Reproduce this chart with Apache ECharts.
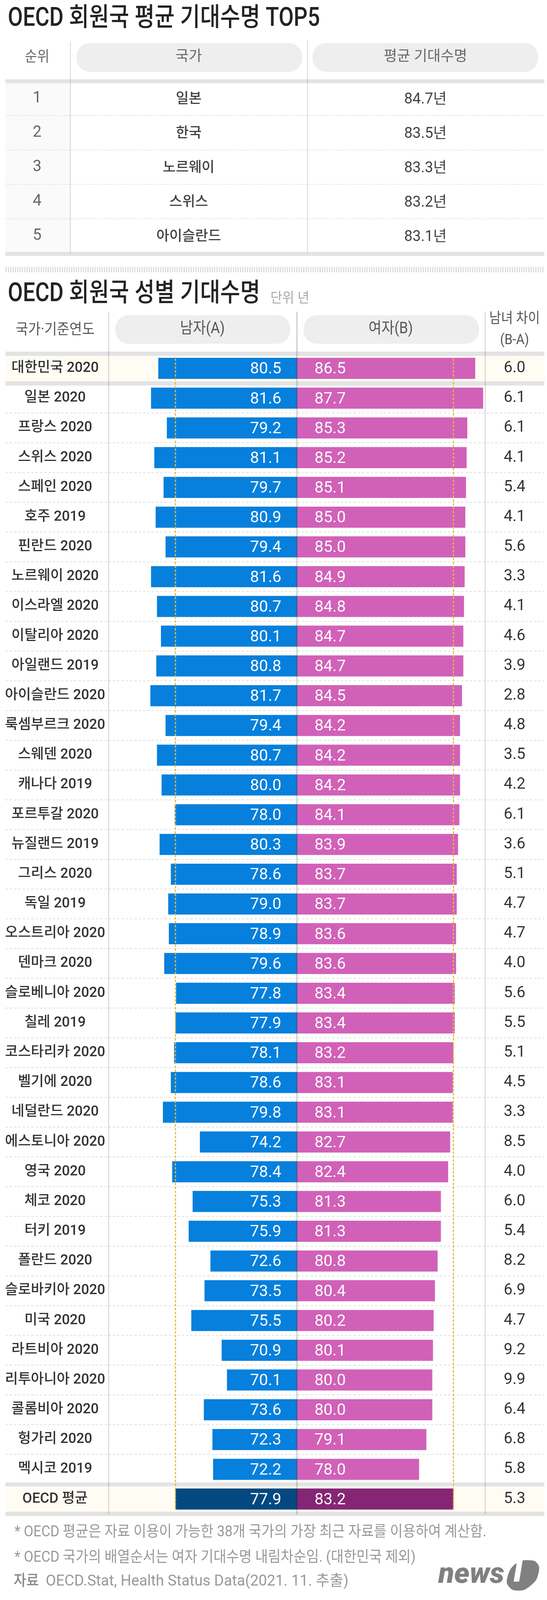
<!DOCTYPE html>
<html>
<head>
<meta charset="utf-8">
<title>OECD 회원국 기대수명</title>
<style>
  html, body { margin: 0; padding: 0; background: #fff; }
  #chart { width: 1400px; height: 4098px; }
</style>
<script src="https://cdn.jsdelivr.net/npm/echarts@6/dist/echarts.min.js"></script>
</head>
<body>
<div id="chart"></div>
<script>
const topTitle = 'OECD 회원국 평균 기대수명 TOP5'
const topHeaders = ['국가', '평균 기대수명']
const topRanks = ['1', '2', '3', '4', '5']
const topCountries = ['일본', '한국', '노르웨이', '스위스', '아이슬란드']
const topLife = [84.7, 83.5, 83.3, 83.2, 83.1]

const categories = [
  '대한민국 2020', '일본 2020', '프랑스 2020', '스위스 2020', '스페인 2020', '호주 2019',
  '핀란드 2020', '노르웨이 2020', '이스라엘 2020', '이탈리아 2020', '아일랜드 2019',
  '아이슬란드 2020', '룩셈부르크 2020', '스웨덴 2020', '캐나다 2019', '포르투갈 2020',
  '뉴질랜드 2019', '그리스 2020', '독일 2019', '오스트리아 2020', '덴마크 2020',
  '슬로베니아 2020', '칠레 2019', '코스타리카 2020', '벨기에 2020', '네덜란드 2020',
  '에스토니아 2020', '영국 2020', '체코 2020', '터키 2019', '폴란드 2020',
  '슬로바키아 2020', '미국 2020', '라트비아 2020', '리투아니아 2020', '콜롬비아 2020',
  '헝가리 2020', '멕시코 2019', 'OECD 평균'
]
const male = [
  80.5, 81.6, 79.2, 81.1, 79.7, 80.9, 79.4, 81.6, 80.7, 80.1, 80.8, 81.7, 79.4,
  80.7, 80.0, 78.0, 80.3, 78.6, 79.0, 78.9, 79.6, 77.8, 77.9, 78.1, 78.6, 79.8,
  74.2, 78.4, 75.3, 75.9, 72.6, 73.5, 75.5, 70.9, 70.1, 73.6, 72.3, 72.2, 77.9
]
const female = [
  86.5, 87.7, 85.3, 85.2, 85.1, 85.0, 85.0, 84.9, 84.8, 84.7, 84.7, 84.5, 84.2,
  84.2, 84.2, 84.1, 83.9, 83.7, 83.7, 83.6, 83.6, 83.4, 83.4, 83.2, 83.1, 83.1,
  82.7, 82.4, 81.3, 81.3, 80.8, 80.4, 80.2, 80.1, 80.0, 80.0, 79.1, 78.0, 83.2
]
const gaps = [
  6.0, 6.1, 6.1, 4.1, 5.4, 4.1, 5.6, 3.3, 4.1, 4.6, 3.9, 2.8, 4.8,
  3.5, 4.2, 6.1, 3.6, 5.1, 4.7, 4.7, 4.0, 5.6, 5.5, 5.1, 4.5, 3.3,
  8.5, 4.0, 6.0, 5.4, 8.2, 6.9, 4.7, 9.2, 9.9, 6.4, 6.8, 5.8, 5.3
]
const oecdMale = 77.9
const oecdFemale = 83.2

const chartTitle = 'OECD 회원국 성별 기대수명'
const notes = [
  '* OECD 평균은 자료 이용이 가능한 38개 국가의 가장 최근 자료를 이용하여 계산함.',
  '* OECD 국가의 배열순서는 여자 기대수명 내림차순임. (대한민국 제외)'
]
const sourceLabel = '자료'
const sourceText = 'OECD.Stat, Health Status Data(2021. 11. 추출)'

const FONT = "Roboto, 'Noto Sans CJK KR', sans-serif"
const CENTER = 760
const HALF = 507
const AXIS_MIN = 59.5
const AXIS_MAX = 89.5
const ROW_TOP = 905
const ROW_H = 76.17
const TOP_ROW_H = 88
const LAST = categories.length - 1
// 글자를 기준선 쪽으로 살짝 내림
const TEXT_DY = 3

function text (str, x, y, size, color, opt = {}) {
  return {
    type: 'text',
    x,
    y: y + TEXT_DY,
    scaleX: opt.scaleX || 1,
    z: opt.z || 3,
    style: {
      text: str,
      fontFamily: FONT,
      fontSize: size,
      fontWeight: opt.weight || 400,
      fontStyle: opt.italic ? 'italic' : 'normal',
      fill: color,
      align: opt.align || 'center',
      verticalAlign: 'middle'
    }
  }
}

function rect (x, y, w, h, fill, r = 0, z = 0) {
  return { type: 'rect', z, shape: { x, y, width: w, height: h, r }, style: { fill } }
}

function line (x1, y1, x2, y2, stroke, lineWidth, dash, z = 1) {
  return {
    type: 'line',
    z,
    shape: { x1, y1, x2, y2 },
    style: { stroke, lineWidth, lineDash: dash || null }
  }
}

function buildDecor () {
  const g = []
  // 상단 표
  g.push(text(topTitle, 20, 46, 66, '#222', { align: 'left', scaleX: 0.845, weight: 500 }))
  g.push(rect(196, 110, 577, 74, '#eeeeee', 34))
  g.push(rect(800, 110, 577, 74, '#eeeeee', 34))
  g.push(rect(14, 213, 166, 432, '#fafafa'))
  g.push(rect(14, 203, 1379, 10, '#e3e3e3'))
  g.push(rect(14, 645, 1379, 10, '#e3e3e3'))
  g.push(text('순위', 95, 144, 38, '#666', { scaleX: 0.9 }))
  for (let i = 1; i < topRanks.length; i++) {
    g.push(line(14, 208 + i * TOP_ROW_H, 1393, 208 + i * TOP_ROW_H, '#dedede', 2, [3, 3]))
  }
  g.push(line(180, 106, 180, 650, 'rgba(0,0,0,0.15)', 2, null, 2))
  g.push(line(787, 102, 787, 647, 'rgba(0,0,0,0.15)', 2, null, 2))
  g.push(line(14, 690, 1393, 690, '#dcdcdc', 14, [3, 3]))

  // 하단 차트
  g.push(text(chartTitle, 20, 751, 66, '#222', { align: 'left', scaleX: 0.845, weight: 500 }))
  g.push(text('단위 년', 692, 763, 36, '#aaa', { align: 'left', scaleX: 0.92 }))
  g.push(rect(295, 807, 448, 73, '#eeeeee', 34))
  g.push(rect(777, 807, 449, 73, '#eeeeee', 34))
  g.push(text('국가·기준연도', 141, 842, 38, '#555', { scaleX: 0.92 }))
  g.push(text('남자(A)', 518, 840, 40, '#555', { scaleX: 0.9 }))
  g.push(text('여자(B)', 1000, 840, 40, '#555', { scaleX: 0.9 }))
  g.push(text('남녀 차이', 1317, 815, 37, '#555', { scaleX: 0.89 }))
  g.push(text('(B-A)', 1317, 869, 37, '#555', { scaleX: 0.89 }))

  g.push(rect(14, 911, 1379, 65, '#fffdf3'))
  g.push(rect(14, 3805, 1379, 65, '#fffdf3'))
  g.push(rect(14, 900, 1379, 11, '#e3e3e3'))
  g.push(rect(14, 976, 1379, 11, '#e3e3e3'))
  g.push(rect(14, 3795, 1379, 10, '#e3e3e3'))
  g.push(rect(14, 3870, 1379, 11, '#e3e3e3'))
  // 일본~멕시코 사이 점선
  for (let i = 2; i < LAST; i++) {
    g.push(line(14, ROW_TOP + i * ROW_H, 1393, ROW_TOP + i * ROW_H, '#dedede', 2, [6, 5]))
  }
  g.push(line(278, 798, 278, 3877, 'rgba(0,0,0,0.14)', 3, null, 2))
  g.push(line(1242, 798, 1242, 3877, 'rgba(0,0,0,0.14)', 3, null, 2))
  g.push(line(CENTER, 798, CENTER, 3877, 'rgba(0,0,0,0.16)', 4, null, 20))

  // 주석
  g.push(text(notes[0], 37, 3920, 39, '#999', { align: 'left', scaleX: 0.91 }))
  g.push(text(notes[1], 37, 3985, 39, '#999', { align: 'left', scaleX: 0.91 }))
  g.push(text(sourceLabel, 35, 4046, 39, '#888', { align: 'left', weight: 500, scaleX: 0.9 }))
  g.push(text(sourceText, 117, 4046, 39, '#999', { align: 'left', scaleX: 0.98 }))

  // 로고
  g.push(text('news', 1122, 4030, 74, '#808080', { align: 'left', weight: 900, italic: true }))
  g.push({
    type: 'polygon',
    z: 3,
    shape: {
      points: [[1330, 3996], [1368, 3996], [1380, 4012], [1372, 4045], [1342, 4070], [1312, 4070], [1297, 4052], [1306, 4018]],
      smooth: 0.25
    },
    style: { fill: '#808080' }
  })
  g.push(text('1', 1323, 4024, 88, '#fff', { weight: 900, italic: true, z: 4 }))
  return g
}

const chart = echarts.init(document.getElementById('chart'), null, { renderer: 'canvas' })

const hiddenValue = {
  type: 'value',
  min: AXIS_MIN,
  max: AXIS_MAX,
  axisLine: { show: false },
  axisTick: { show: false },
  axisLabel: { show: false },
  splitLine: { show: false }
}
const hiddenUnit = { ...hiddenValue, min: 0, max: 1 }
const hiddenCat = {
  type: 'category',
  inverse: true,
  data: categories,
  axisLine: { show: false },
  axisTick: { show: false },
  splitLine: { show: false }
}

function barData (values, base, last) {
  return values.map((v, i) => ({
    value: v,
    itemStyle: { color: i === LAST ? last : base }
  }))
}

function avgLine (value, axisIndex) {
  return {
    type: 'line',
    xAxisIndex: axisIndex,
    yAxisIndex: axisIndex,
    z: 6,
    silent: true,
    symbol: 'none',
    lineStyle: { color: '#e8b93a', width: 3, type: [6, 4] },
    data: [[value, 0], [value, 1]]
  }
}

function topColumn (col, labels, opt) {
  return {
    type: 'scatter',
    xAxisIndex: 0,
    yAxisIndex: 0,
    symbolSize: 0,
    silent: true,
    data: labels.map((s, i) => [col, i, s]),
    label: {
      show: true,
      position: 'inside',
      offset: [0, TEXT_DY],
      formatter: p => p.value[2],
      fontFamily: FONT,
      color: '#111',
      ...opt
    }
  }
}

chart.setOption({
  animation: false,
  backgroundColor: '#fff',
  grid: [
    { left: 180, top: 208, width: 1212, height: TOP_ROW_H * topRanks.length },
    { left: CENTER - HALF, top: ROW_TOP, width: HALF, height: ROW_H * categories.length },
    { left: CENTER, top: ROW_TOP, width: HALF, height: ROW_H * categories.length },
    { left: CENTER - HALF, top: 916, width: HALF, height: 2948 },
    { left: CENTER, top: 916, width: HALF, height: 2948 }
  ],
  xAxis: [
    {
      type: 'category',
      gridIndex: 0,
      position: 'top',
      data: topHeaders,
      axisLine: { show: false },
      axisTick: { show: false },
      axisLabel: {
        margin: 61,
        verticalAlign: 'middle',
        fontFamily: FONT,
        fontSize: 37,
        color: '#666'
      }
    },
    { ...hiddenValue, gridIndex: 1, inverse: true },
    { ...hiddenValue, gridIndex: 2 },
    { ...hiddenValue, gridIndex: 3, inverse: true },
    { ...hiddenValue, gridIndex: 4 }
  ],
  yAxis: [
    {
      ...hiddenCat,
      gridIndex: 0,
      data: topRanks,
      axisLabel: {
        margin: 85,
        align: 'center',
        padding: [TEXT_DY * 2, 0, 0, 0],
        fontFamily: FONT,
        fontSize: 40,
        color: '#666'
      }
    },
    {
      ...hiddenCat,
      gridIndex: 1,
      position: 'left',
      axisLabel: {
        interval: 0,
        margin: CENTER - HALF - 141,
        align: 'center',
        padding: [TEXT_DY * 2, 0, 0, 0],
        fontFamily: FONT,
        fontSize: 36,
        fontWeight: 500,
        color: '#333'
      }
    },
    {
      ...hiddenCat,
      gridIndex: 2,
      position: 'right',
      axisLabel: {
        interval: 0,
        margin: 1317 - CENTER - HALF,
        align: 'center',
        padding: [TEXT_DY * 2, 0, 0, 0],
        formatter: (v, i) => gaps[i].toFixed(1),
        fontFamily: FONT,
        fontSize: 40,
        color: '#333'
      }
    },
    { ...hiddenUnit, gridIndex: 3 },
    { ...hiddenUnit, gridIndex: 4 }
  ],
  series: [
    topColumn(0, topCountries, { fontSize: 36, fontWeight: 500 }),
    topColumn(1, topLife.map(v => v.toFixed(1) + '년'), { fontSize: 38 }),
    {
      type: 'bar',
      xAxisIndex: 1,
      yAxisIndex: 1,
      barWidth: 54,
      silent: true,
      data: barData(male, '#0680dc', '#03487f'),
      label: {
        show: true,
        position: 'insideRight',
        distance: 40,
        offset: [0, TEXT_DY],
        formatter: p => p.value.toFixed(1),
        fontFamily: FONT,
        fontSize: 41,
        color: '#fff'
      }
    },
    {
      type: 'bar',
      xAxisIndex: 2,
      yAxisIndex: 2,
      barWidth: 54,
      silent: true,
      data: barData(female, '#d161b8', '#852675'),
      label: {
        show: true,
        position: 'insideLeft',
        distance: 45,
        offset: [0, TEXT_DY],
        formatter: p => p.value.toFixed(1),
        fontFamily: FONT,
        fontSize: 41,
        color: '#fff'
      }
    },
    avgLine(oecdMale, 3),
    avgLine(oecdFemale, 4)
  ],
  graphic: { elements: buildDecor() }
})
</script>
</body>
</html>
